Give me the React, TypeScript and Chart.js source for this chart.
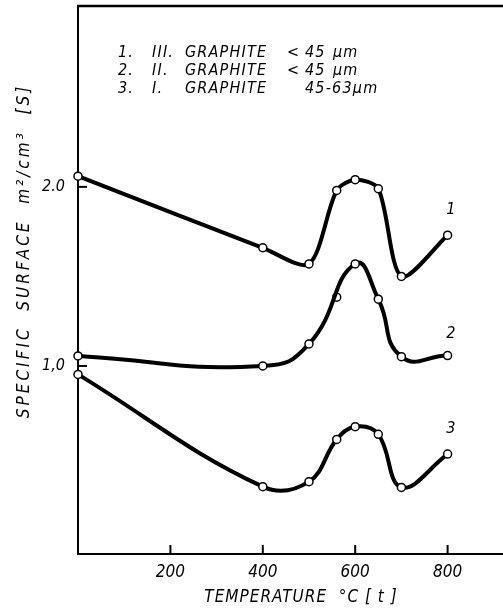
import React, { useEffect, useRef } from "react";
import { Chart, registerables } from "chart.js";

Chart.register(...registerables);

const temperatures = [0, 400, 500, 560, 600, 650, 700, 800];
const series1 = [2.06, 1.66, 1.57, 1.98, 2.04, 1.99, 1.5, 1.73];
const series2Temps = [0, 400, 500, 600, 650, 700, 800];
const series2 = [1.056, 1.0, 1.123, 1.57, 1.373, 1.052, 1.058];
const series2OutlierTemp = [560];
const series2Outlier = [1.384];
const series3 = [0.953, 0.326, 0.354, 0.59, 0.661, 0.618, 0.322, 0.508];

const xTickValues = [200, 400, 600, 800];
const yTickValues = [1, 2];
const yTickLabels = ["1,0", "2.0"];

const curveLabels = ["1", "2", "3"];
const curveLabelX = [807, 807, 807];
const curveLabelY = [1.87, 1.18, 0.65];

const legendRows = [
  ["1.", "III.", "GRAPHITE", "<", "45", "µm"],
  ["2.", "II.", "GRAPHITE", "<", "45", "µm"],
  ["3.", "I.", "GRAPHITE", "", "45-63µm", ""],
];

const xTitle = "TEMPERATURE  °C [ t ]";
const yTitle = "SPECIFIC  SURFACE  m²/cm³  [S]";

const FONT = "'DejaVu Sans Condensed', 'DejaVu Sans', sans-serif";

const decorPlugin = {
  id: "decor",
  afterDraw(chart: any) {
    const { ctx, chartArea, scales } = chart;
    const xs = scales.x;
    const ys = scales.y;
    ctx.save();
    ctx.strokeStyle = "#000";
    ctx.fillStyle = "#000";
    // top border
    ctx.lineWidth = 2.5;
    ctx.beginPath();
    ctx.moveTo(chartArea.left - 1, chartArea.top);
    ctx.lineTo(chartArea.right, chartArea.top);
    ctx.stroke();
    // inward ticks
    ctx.lineWidth = 2;
    xTickValues.forEach((v) => {
      const px = xs.getPixelForValue(v);
      ctx.beginPath();
      ctx.moveTo(px, chartArea.bottom);
      ctx.lineTo(px, chartArea.bottom - 9);
      ctx.stroke();
    });
    yTickValues.forEach((v) => {
      const py = ys.getPixelForValue(v);
      ctx.beginPath();
      ctx.moveTo(chartArea.left, py);
      ctx.lineTo(chartArea.left + 9, py);
      ctx.stroke();
    });
    // curve labels
    ctx.font = `italic 16px ${FONT}`;
    ctx.textAlign = "center";
    ctx.textBaseline = "middle";
    curveLabels.forEach((t, i) => {
      ctx.fillText(t, xs.getPixelForValue(curveLabelX[i]), ys.getPixelForValue(curveLabelY[i]));
    });
    // legend block
    const colX = [118, 152, 185, 287, 305, 333];
    const rowY = [53, 71, 89];
    ctx.font = `italic 16px ${FONT}`;
    (ctx as any).letterSpacing = "1.2px";
    ctx.textAlign = "left";
    legendRows.forEach((row, r) => {
      row.forEach((cell, c) => {
        if (cell) ctx.fillText(cell, colX[c], rowY[r]);
      });
    });
    // axis titles
    ctx.font = `italic 17px ${FONT}`;
    (ctx as any).letterSpacing = "1px";
    ctx.textAlign = "center";
    ctx.fillText(xTitle, 301, 598);
    ctx.save();
    ctx.translate(25, 251);
    ctx.rotate(-Math.PI / 2);
    (ctx as any).letterSpacing = "3px";
    ctx.fillText(yTitle, 0, 0);
    ctx.restore();
    ctx.restore();
  },
};

const zeroPadding = (s: any) => {
  s.paddingTop = 0;
  s.paddingBottom = 0;
  s.paddingLeft = 0;
  s.paddingRight = 0;
};

const CANVAS_W = 509;

export default function App() {
  const ref = useRef<HTMLCanvasElement>(null);
  useEffect(() => {
    if (!ref.current) return;
    const lineStyle = {
      borderColor: "#000",
      borderWidth: 4,
      pointRadius: 4,
      pointBorderWidth: 1.5,
      pointBackgroundColor: "#fff",
      pointBorderColor: "#000",
      tension: 0.4,
      fill: false,
      clip: false as any,
    };
    const chart = new Chart(ref.current, {
      type: "line",
      data: {
        datasets: [
          { ...lineStyle, tension: 0.28, label: "1", data: temperatures.map((t, i) => ({ x: t, y: series1[i] })) },
          { ...lineStyle, tension: 0.5, label: "2", data: series2Temps.map((t, i) => ({ x: t, y: series2[i] })) },
          {
            ...lineStyle,
            label: "2*",
            showLine: false,
            data: series2OutlierTemp.map((t, i) => ({ x: t, y: series2Outlier[i] })),
          },
          { ...lineStyle, label: "3", data: temperatures.map((t, i) => ({ x: t, y: series3[i] })) },
        ],
      },
      options: {
        animation: false,
        responsive: false,
        devicePixelRatio: 1,
        layout: { padding: { top: 6, right: 0, left: 0, bottom: 0 } },
        plugins: { legend: { display: false }, tooltip: { enabled: false } },
        scales: {
          x: {
            type: "linear",
            min: 0,
            max: 921,
            afterFit: (s: any) => {
              s.height = 58;
              zeroPadding(s);
            },
            afterBuildTicks: (s: any) => {
              s.ticks = xTickValues.map((v) => ({ value: v }));
            },
            grid: { display: false, drawTicks: false },
            border: { display: true, color: "#000", width: 2 },
            ticks: {
              color: "#000",
              padding: 8,
              font: { family: FONT, size: 17, style: "italic" },
              callback: (v: any) => String(v),
            },
          },
          y: {
            type: "linear",
            min: -0.05,
            max: 3.01,
            afterFit: (s: any) => {
              s.width = 78;
              zeroPadding(s);
            },
            afterBuildTicks: (s: any) => {
              s.ticks = yTickValues.map((v) => ({ value: v }));
            },
            grid: { display: false, drawTicks: false },
            border: { display: true, color: "#000", width: 2 },
            ticks: {
              color: "#000",
              padding: 13,
              font: { family: FONT, size: 16, style: "italic" },
              callback: (v: any) => {
                const i = yTickValues.indexOf(Number(v));
                return i >= 0 ? yTickLabels[i] : "";
              },
            },
          },
        },
      },
      plugins: [decorPlugin],
    });
    return () => chart.destroy();
  }, []);
  return (
    <canvas
      ref={ref}
      width={CANVAS_W}
      height={612}
      style={{ position: "fixed", left: 0, top: 0, width: CANVAS_W, height: 612, background: "#fff" }}
    />
  );
}
